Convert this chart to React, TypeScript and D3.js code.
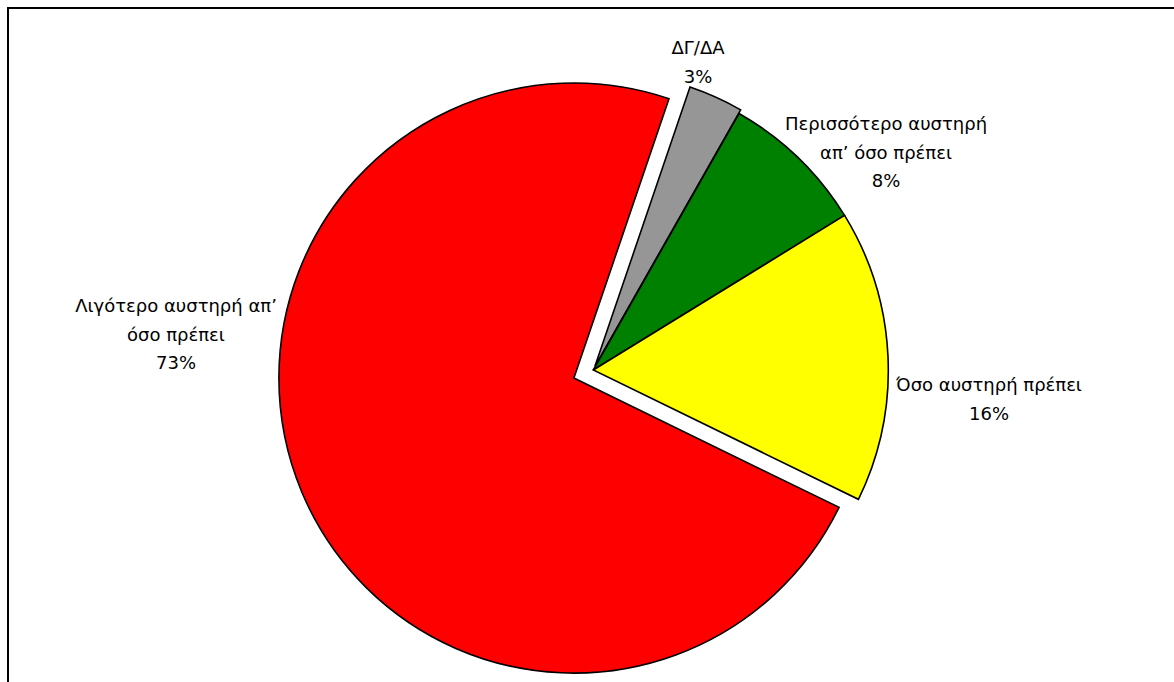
import React from "react";
import * as d3 from "d3";

const categories = ["ΔΓ/ΔΑ", "Περισσότερο αυστηρή απ’ όσο πρέπει", "Όσο αυστηρή πρέπει", "Λιγότερο αυστηρή απ’ όσο πρέπει"];
const labelLines = [["ΔΓ/ΔΑ"], ["Περισσότερο αυστηρή", "απ’ όσο πρέπει"], ["Όσο αυστηρή πρέπει"], ["Λιγότερο αυστηρή απ’", "όσο πρέπει"]];
const values = [3, 8, 16, 73];
const colors = ["#969696", "#008000", "#FFFF00", "#FF0000"];
const explode = [4, 0, 0, 21];
// label anchor (center x, first baseline y)
const labelPos: [number, number][] = [[698, 54], [886, 130], [989, 391], [176, 312]];

const W = 1174, H = 682;
const cx = 593.3, cy = 370, R = 295;
const startDeg = 18.8;

export default function App() {
  const start = (startDeg * Math.PI) / 180;
  const pie = d3.pie<number>().sort(null).value((d) => d).startAngle(start).endAngle(start + 2 * Math.PI);
  const arcs = pie(values);
  const arc = d3.arc<d3.PieArcDatum<number>>().innerRadius(0).outerRadius(R);
  const total = d3.sum(values);
  const lh = 28.5;
  return (
    <svg width={W} height={H} style={{ position: "absolute", left: 0, top: 0 }} fontFamily="'DejaVu Sans', Tahoma, sans-serif">
      <rect x={0} y={0} width={W} height={H} fill="#fff" />
      <rect x={8} y={8} width={1300} height={800} fill="none" stroke="#000" strokeWidth={2} />
      {arcs.map((a, i) => {
        const mid = (a.startAngle + a.endAngle) / 2;
        const dx = Math.sin(mid) * explode[i];
        const dy = -Math.cos(mid) * explode[i];
        return (
          <path key={categories[i]} d={arc(a) || ""} transform={`translate(${cx + dx},${cy + dy})`} fill={colors[i]} stroke="#000" strokeWidth={1.6} strokeLinejoin="miter" />
        );
      })}
      {arcs.map((a, i) => {
        const lines = [...labelLines[i], `${Math.round((values[i] / total) * 100)}%`];
        const [lx, ly] = labelPos[i];
        return (
          <text key={"l" + i} x={lx} y={ly} textAnchor="middle" fontSize={18} fill="#000">
            {lines.map((t, j) => (
              <tspan key={j} x={lx} y={ly + j * lh}>{t}</tspan>
            ))}
          </text>
        );
      })}
    </svg>
  );
}
